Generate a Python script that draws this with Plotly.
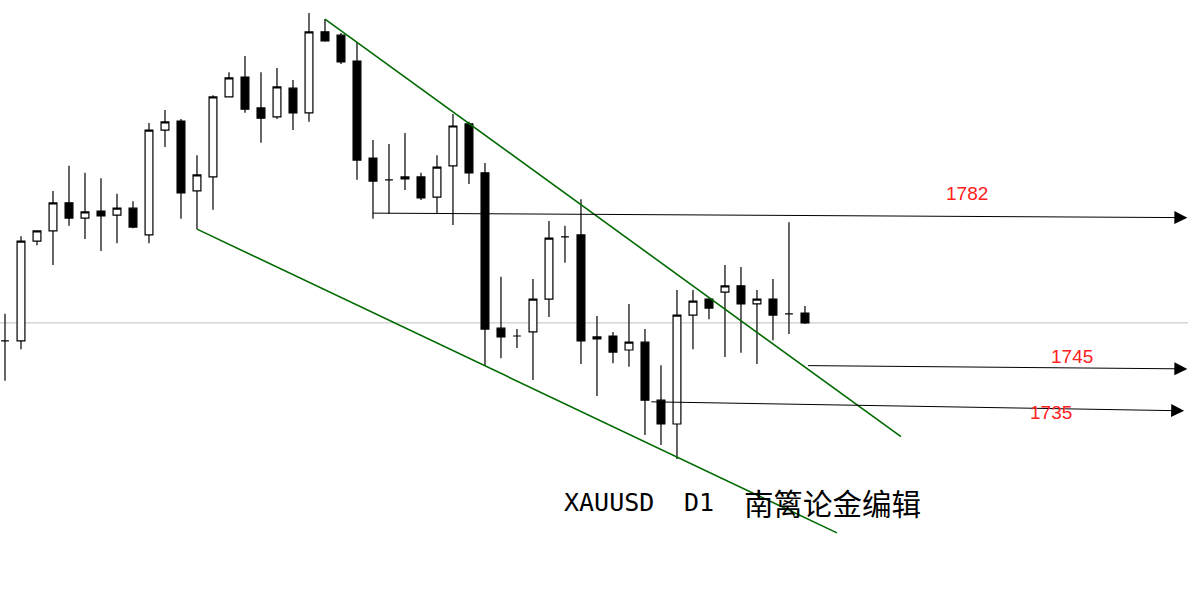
import plotly.graph_objects as go

# ---- data ----
opens = [1751.6, 1751.6, 1775.9, 1778.4, 1785.2, 1781.5, 1783.2, 1782.2, 1783.9, 1777.4,
         1802.9, 1805.1, 1788.1, 1791.5, 1811.0, 1815.8, 1808.3, 1806.1, 1813.1, 1807.1,
         1826.8, 1826.0, 1819.7, 1796.1, 1790.8, 1791.0, 1791.5, 1786.6, 1794.2, 1804.4,
         1792.5, 1754.7, 1752.8, 1753.8, 1761.8, 1776.9, 1777.4, 1752.1, 1752.8, 1749.4,
         1751.3, 1737.2, 1731.4, 1757.9, 1761.8, 1763.5, 1765.0, 1760.6, 1761.8, 1758.2, 1758.4]
highs = [1758.2, 1777.1, 1778.5, 1788.1, 1794.2, 1792.5, 1791.2, 1787.4, 1785.6, 1804.6,
         1807.8, 1805.6, 1796.8, 1811.4, 1817.0, 1820.9, 1817.0, 1818.0, 1815.1, 1831.4,
         1829.9, 1826.5, 1824.3, 1800.5, 1799.5, 1802.2, 1792.5, 1796.8, 1806.8, 1804.9,
         1794.9, 1767.2, 1754.5, 1766.7, 1780.8, 1779.6, 1786.1, 1757.7, 1753.8, 1760.6,
         1754.5, 1745.7, 1764.0, 1764.0, 1762.0, 1770.1, 1769.6, 1764.0, 1766.7, 1780.5, 1760.1]
lows = [1741.9, 1749.6, 1774.9, 1770.1, 1779.6, 1776.4, 1773.5, 1775.4, 1779.0, 1775.4,
        1798.8, 1781.3, 1778.8, 1783.5, 1810.8, 1807.1, 1799.8, 1805.6, 1802.9, 1804.9,
        1824.4, 1819.0, 1790.8, 1781.3, 1782.5, 1788.3, 1785.9, 1782.5, 1779.8, 1789.8,
        1745.5, 1747.4, 1749.9, 1742.1, 1757.4, 1770.6, 1746.0, 1738.2, 1746.2, 1745.3,
        1728.7, 1726.3, 1722.9, 1749.6, 1756.9, 1747.7, 1748.7, 1746.0, 1751.8, 1753.3, 1755.7]
closes = [1751.6, 1775.9, 1778.4, 1785.2, 1781.5, 1783.0, 1782.0, 1783.9, 1779.3, 1802.9,
          1804.9, 1787.6, 1792.0, 1811.0, 1815.6, 1808.0, 1805.8, 1813.4, 1807.1, 1826.8,
          1824.6, 1819.5, 1795.6, 1790.5, 1790.8, 1791.5, 1786.4, 1793.9, 1803.9, 1792.5,
          1754.5, 1752.6, 1752.8, 1761.8, 1776.6, 1776.9, 1751.6, 1752.6, 1748.9, 1751.3,
          1737.2, 1731.4, 1757.9, 1761.3, 1759.6, 1765.0, 1760.6, 1761.8, 1757.9, 1758.2, 1756.0]
bars = list(range(len(opens)))

# channel trend lines (bar index, price)
upper_x = [20, 56]
upper_y = [1829.9, 1728.3]
lower_x = [12, 52]
lower_y = [1778.8, 1704.9]

# level arrows
level_labels = ["1782", "1745", "1735"]
level_x0 = [22.9, 50.1, 40.3]
level_x1 = [73.9, 73.9, 73.7]
level_y0 = [1782.7, 1745.6, 1736.8]
level_y1 = [1781.6, 1744.8, 1734.6]
label_x = [60.1, 66.7, 65.4]
label_y = [1787.4, 1747.9, 1734.1]

fig = go.Figure()

fig.add_trace(go.Candlestick(
    x=bars, open=opens, high=highs, low=lows, close=closes,
    increasing=dict(line=dict(color="black", width=1.2), fillcolor="white"),
    decreasing=dict(line=dict(color="black", width=1.2), fillcolor="black"),
    whiskerwidth=0, hoverinfo="skip", showlegend=False,
))

# last price line
fig.add_shape(type="line", xref="paper", x0=0, x1=1, yref="y",
              y0=closes[-1], y1=closes[-1],
              line=dict(color="#c0c0c0", width=1), layer="below")

for xs, ys in ((upper_x, upper_y), (lower_x, lower_y)):
    fig.add_trace(go.Scatter(x=xs, y=ys, mode="lines",
                             line=dict(color="#006a00", width=1.6),
                             hoverinfo="skip", showlegend=False))

for lab, x0, x1, y0, y1, lx, ly in zip(level_labels, level_x0, level_x1,
                                       level_y0, level_y1, label_x, label_y):
    fig.add_annotation(x=x1, y=y1, ax=x0, ay=y0, xref="x", yref="y",
                       axref="x", ayref="y", text="", showarrow=True,
                       arrowhead=2, arrowsize=2.6, arrowwidth=1,
                       arrowcolor="black", standoff=0)
    fig.add_annotation(x=lx, y=ly, xref="x", yref="y", text=lab,
                       showarrow=False,
                       font=dict(family="Liberation Sans, Arial", size=19, color="#ff2020"))

latin_font = "DejaVu Sans Mono, Liberation Mono, monospace"
for txt, px, fam, sz in (("XAUUSD", 562, latin_font, 25),
                         ("D1", 682, latin_font, 25),
                         ("南篱论金编辑", 742, "Noto Sans CJK SC", 29.5)):
    fig.add_annotation(x=px / 1188, y=1 - 502 / 611, xref="paper", yref="paper",
                       xanchor="left", yanchor="middle", text=txt, showarrow=False,
                       font=dict(family=fam, size=sz, color="black"))

fig.update_layout(
    width=1188, height=611,
    margin=dict(l=0, r=0, t=0, b=0),
    paper_bgcolor="white", plot_bgcolor="white",
    xaxis=dict(range=[-0.3125, 73.94], visible=False, rangeslider=dict(visible=False),
               fixedrange=True),
    yaxis=dict(range=[1685.9, 1834.55], visible=False, fixedrange=True),
    boxgap=0.3,
)

fig.write_html("out.html", config={"displayModeBar": False},
               post_script="document.body.style.margin='0px';document.body.style.overflow='hidden';")
